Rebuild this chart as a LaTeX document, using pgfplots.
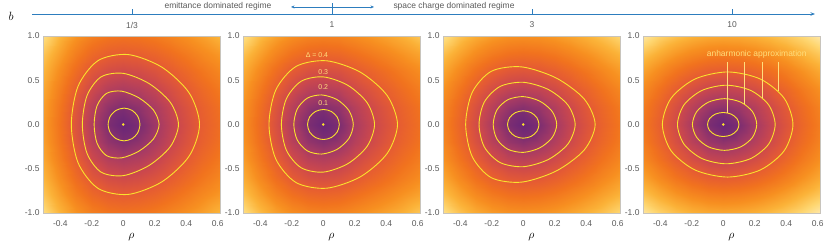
\documentclass[border=0pt]{standalone}
\usepackage{fontspec}
\setmainfont{Liberation Sans}
\usepackage{pgfplots}
\pgfplotsset{compat=1.18}
\usetikzlibrary{arrows.meta}
\definecolor{axblue}{RGB}{45,125,190}
\definecolor{lblgrey}{RGB}{90,90,90}
\definecolor{framegrey}{RGB}{200,196,188}
\definecolor{ctr}{RGB}{250,226,45}
\definecolor{annot}{RGB}{255,222,125}
\pgfplotsset{
  colormap={sunset}{rgb255=(105,38,120) rgb255=(124,45,113) rgb255=(168,59,99) rgb255=(204,72,76) rgb255=(229,91,51) rgb255=(241,114,30) rgb255=(247,143,32) rgb255=(251,178,56) rgb255=(254,214,112) rgb255=(255,238,188)},
  panel/.style={width=177bp,height=177bp,scale only axis,
    xmin=-0.51,xmax=0.615,ymin=-1,ymax=1,axis on top,
    xtick={-0.4,-0.2,0,0.2,0.4,0.6},xticklabels={-0.4,-0.2,0,0.2,0.4,0.6},
    ytick={-1,-0.5,0,0.5,1},yticklabels={-1.0,-0.5,0.0,0.5,1.0},
    major tick length=0pt,
    tick label style={font=\fontsize{8.5}{9}\selectfont,text=lblgrey},
    xticklabel style={yshift=-4bp},
    axis line style={framegrey,line width=0.8bp},
    xlabel={$\rho$},
    xlabel style={at={(axis description cs:0.5,0)},anchor=center,yshift=-24bp,font=\fontsize{12}{12}\selectfont},
    colormap name=sunset,point meta min=0,point meta max=0.9},
  bg/.style={surf,shader=interp,mesh/cols=12,point meta=\thisrow{c}},
  dot/.style={only marks,mark=*,mark size=1bp,ctr}
}
\begin{document}
\begin{tikzpicture}
\useasboundingbox (0,0) rectangle (831bp,252bp);
\node[font=\fontsize{12}{12}\selectfont] at (11bp,236bp) {$b$};
% top axis
\begin{axis}[at={(32bp,238bp)},anchor=south west,width=783bp,height=11bp,scale only axis,
  xmin=-0.5,xmax=3.415,ymin=0,ymax=1,axis x line=bottom,axis y line=none,ytick=\empty,
  x axis line style={axblue,line width=0.8bp,-{Stealth[length=4.5bp,width=3.5bp]}},
  xtick={0,1,2,3},xticklabels={1/3,1,3,10},xtick align=inside,major tick length=5bp,
  tick style={axblue,line width=0.8bp},
  xticklabel style={font=\fontsize{8.5}{9}\selectfont,text=lblgrey,yshift=-4.5bp},clip=false]
\draw[axblue,line width=0.8bp] (axis cs:1,0) -- (axis cs:1,1);
\draw[axblue,line width=0.7bp,{Stealth[length=3.5bp,width=3bp]}-{Stealth[length=3.5bp,width=3bp]}] (axis cs:0.795,0.64) -- (axis cs:1.21,0.64);
\node[text=lblgrey,font=\fontsize{8.5}{9}\selectfont] at (axis cs:0.43,0.73) {emittance dominated regime};
\node[text=lblgrey,font=\fontsize{8.5}{9}\selectfont] at (axis cs:1.61,0.73) {space charge dominated regime};
\end{axis}
% panel 1
\begin{axis}[panel,at={(43bp,39bp)},anchor=south west]
\addplot[bg] table[row sep=\\] {x y c\\
-0.51 -1 0.830\\ -0.4 -1 0.707\\ -0.3 -1 0.614\\ -0.2 -1 0.546\\ -0.1 -1 0.511\\ 0 -1 0.500\\ 0.1 -1 0.509\\ 0.2 -1 0.530\\ 0.3 -1 0.563\\ 0.4 -1 0.602\\ 0.5 -1 0.647\\ 0.615 -1 0.710\\
-0.51 -0.8 0.757\\ -0.4 -0.8 0.643\\ -0.3 -0.8 0.539\\ -0.2 -0.8 0.460\\ -0.1 -0.8 0.417\\ 0 -0.8 0.404\\ 0.1 -0.8 0.415\\ 0.2 -0.8 0.441\\ 0.3 -0.8 0.479\\ 0.4 -0.8 0.526\\ 0.5 -0.8 0.576\\ 0.615 -0.8 0.627\\
-0.51 -0.6 0.711\\ -0.4 -0.6 0.588\\ -0.3 -0.6 0.473\\ -0.2 -0.6 0.380\\ -0.1 -0.6 0.327\\ 0 -0.6 0.310\\ 0.1 -0.6 0.324\\ 0.2 -0.6 0.357\\ 0.3 -0.6 0.403\\ 0.4 -0.6 0.457\\ 0.5 -0.6 0.514\\ 0.615 -0.6 0.571\\
-0.51 -0.4 0.674\\ -0.4 -0.4 0.543\\ -0.3 -0.4 0.415\\ -0.2 -0.4 0.306\\ -0.1 -0.4 0.236\\ 0 -0.4 0.212\\ 0.1 -0.4 0.232\\ 0.2 -0.4 0.276\\ 0.3 -0.4 0.334\\ 0.4 -0.4 0.397\\ 0.5 -0.4 0.462\\ 0.615 -0.4 0.525\\
-0.51 -0.2 0.649\\ -0.4 -0.2 0.512\\ -0.3 -0.2 0.373\\ -0.2 -0.2 0.245\\ -0.1 -0.2 0.150\\ 0 -0.2 0.108\\ 0.1 -0.2 0.143\\ 0.2 -0.2 0.207\\ 0.3 -0.2 0.280\\ 0.4 -0.2 0.353\\ 0.5 -0.2 0.424\\ 0.615 -0.2 0.492\\
-0.51 0 0.640\\ -0.4 0 0.500\\ -0.3 0 0.357\\ -0.2 0 0.220\\ -0.1 0 0.104\\ 0 0 0.000\\ 0.1 0 0.094\\ 0.2 0 0.177\\ 0.3 0 0.258\\ 0.4 0 0.336\\ 0.5 0 0.410\\ 0.615 0 0.480\\
-0.51 0.2 0.649\\ -0.4 0.2 0.512\\ -0.3 0.2 0.373\\ -0.2 0.2 0.245\\ -0.1 0.2 0.150\\ 0 0.2 0.108\\ 0.1 0.2 0.143\\ 0.2 0.2 0.207\\ 0.3 0.2 0.280\\ 0.4 0.2 0.353\\ 0.5 0.2 0.424\\ 0.615 0.2 0.492\\
-0.51 0.4 0.674\\ -0.4 0.4 0.543\\ -0.3 0.4 0.415\\ -0.2 0.4 0.306\\ -0.1 0.4 0.236\\ 0 0.4 0.212\\ 0.1 0.4 0.232\\ 0.2 0.4 0.276\\ 0.3 0.4 0.334\\ 0.4 0.4 0.397\\ 0.5 0.4 0.462\\ 0.615 0.4 0.525\\
-0.51 0.6 0.711\\ -0.4 0.6 0.588\\ -0.3 0.6 0.473\\ -0.2 0.6 0.380\\ -0.1 0.6 0.327\\ 0 0.6 0.310\\ 0.1 0.6 0.324\\ 0.2 0.6 0.357\\ 0.3 0.6 0.403\\ 0.4 0.6 0.457\\ 0.5 0.6 0.514\\ 0.615 0.6 0.571\\
-0.51 0.8 0.757\\ -0.4 0.8 0.643\\ -0.3 0.8 0.539\\ -0.2 0.8 0.460\\ -0.1 0.8 0.417\\ 0 0.8 0.404\\ 0.1 0.8 0.415\\ 0.2 0.8 0.441\\ 0.3 0.8 0.479\\ 0.4 0.8 0.526\\ 0.5 0.8 0.576\\ 0.615 0.8 0.627\\
-0.51 1 0.830\\ -0.4 1 0.707\\ -0.3 1 0.614\\ -0.2 1 0.546\\ -0.1 1 0.511\\ 0 1 0.500\\ 0.1 1 0.509\\ 0.2 1 0.530\\ 0.3 1 0.563\\ 0.4 1 0.602\\ 0.5 1 0.647\\ 0.615 1 0.710\\
};
\addplot[ctr,line width=0.9bp,smooth cycle] coordinates {(0.485,0) (0.419,0.357) (0.247,0.646) (0.032,0.79) (-0.160,0.722) (-0.287,0.433) (-0.330,0) (-0.287,-0.433) (-0.160,-0.722) (0.032,-0.79) (0.247,-0.646) (0.419,-0.357)};
\addplot[ctr,line width=0.9bp,smooth cycle] coordinates {(0.351,0) (0.299,0.251) (0.164,0.463) (0,0.578) (-0.141,0.538) (-0.230,0.327) (-0.260,0) (-0.230,-0.327) (-0.141,-0.538) (0,-0.578) (0.164,-0.463) (0.299,-0.251)};
\addplot[ctr,line width=0.9bp,smooth cycle] coordinates {(0.228,0) (0.192,0.163) (0.100,0.301) (-0.011,0.377) (-0.106,0.352) (-0.166,0.214) (-0.185,0) (-0.166,-0.214) (-0.106,-0.352) (-0.011,-0.377) (0.100,-0.301) (0.192,-0.163)};
\addplot[ctr,line width=0.9bp,smooth cycle] coordinates {(0.106,0) (0.0925,0.0925) (0.0555,0.160) (0.005,0.185) (-0.0455,0.160) (-0.0825,0.0925) (-0.096,0) (-0.0825,-0.0925) (-0.0455,-0.160) (0.005,-0.185) (0.0555,-0.160) (0.0925,-0.0925)};
\addplot[dot] coordinates {(0,0)};
\node[font=\fontsize{12}{12}\selectfont] at (axis description cs:0,0.5) [xshift=-29bp,yshift=6bp] {$p_\rho$};
\end{axis}
% panel 2
\begin{axis}[panel,at={(243bp,39bp)},anchor=south west]
\addplot[bg] table[row sep=\\] {x y c\\
-0.51 -1 0.835\\ -0.4 -1 0.727\\ -0.3 -1 0.652\\ -0.2 -1 0.595\\ -0.1 -1 0.563\\ 0 -1 0.554\\ 0.1 -1 0.563\\ 0.2 -1 0.591\\ 0.3 -1 0.621\\ 0.4 -1 0.656\\ 0.5 -1 0.695\\ 0.615 -1 0.755\\
-0.51 -0.8 0.746\\ -0.4 -0.8 0.647\\ -0.3 -0.8 0.561\\ -0.2 -0.8 0.494\\ -0.1 -0.8 0.455\\ 0 -0.8 0.444\\ 0.1 -0.8 0.455\\ 0.2 -0.8 0.490\\ 0.3 -0.8 0.526\\ 0.4 -0.8 0.566\\ 0.5 -0.8 0.611\\ 0.615 -0.8 0.660\\
-0.51 -0.6 0.687\\ -0.4 -0.6 0.577\\ -0.3 -0.6 0.479\\ -0.2 -0.6 0.398\\ -0.1 -0.6 0.349\\ 0 -0.6 0.334\\ 0.1 -0.6 0.348\\ 0.2 -0.6 0.393\\ 0.3 -0.6 0.437\\ 0.4 -0.6 0.485\\ 0.5 -0.6 0.536\\ 0.615 -0.6 0.591\\
-0.51 -0.4 0.643\\ -0.4 -0.4 0.524\\ -0.3 -0.4 0.414\\ -0.2 -0.4 0.317\\ -0.1 -0.4 0.253\\ 0 -0.4 0.232\\ 0.1 -0.4 0.252\\ 0.2 -0.4 0.311\\ 0.3 -0.4 0.364\\ 0.4 -0.4 0.421\\ 0.5 -0.4 0.479\\ 0.615 -0.4 0.540\\
-0.51 -0.2 0.612\\ -0.4 -0.2 0.485\\ -0.3 -0.2 0.363\\ -0.2 -0.2 0.246\\ -0.1 -0.2 0.155\\ 0 -0.2 0.118\\ 0.1 -0.2 0.153\\ 0.2 -0.2 0.238\\ 0.3 -0.2 0.305\\ 0.4 -0.2 0.370\\ 0.5 -0.2 0.435\\ 0.615 -0.2 0.502\\
-0.51 0 0.600\\ -0.4 0 0.470\\ -0.3 0 0.343\\ -0.2 0 0.216\\ -0.1 0 0.100\\ 0 0 0.000\\ 0.1 0 0.098\\ 0.2 0 0.207\\ 0.3 0 0.281\\ 0.4 0 0.351\\ 0.5 0 0.419\\ 0.615 0 0.488\\
-0.51 0.2 0.612\\ -0.4 0.2 0.485\\ -0.3 0.2 0.363\\ -0.2 0.2 0.246\\ -0.1 0.2 0.155\\ 0 0.2 0.118\\ 0.1 0.2 0.153\\ 0.2 0.2 0.238\\ 0.3 0.2 0.305\\ 0.4 0.2 0.370\\ 0.5 0.2 0.435\\ 0.615 0.2 0.502\\
-0.51 0.4 0.643\\ -0.4 0.4 0.524\\ -0.3 0.4 0.414\\ -0.2 0.4 0.317\\ -0.1 0.4 0.253\\ 0 0.4 0.232\\ 0.1 0.4 0.252\\ 0.2 0.4 0.311\\ 0.3 0.4 0.364\\ 0.4 0.4 0.421\\ 0.5 0.4 0.479\\ 0.615 0.4 0.540\\
-0.51 0.6 0.687\\ -0.4 0.6 0.577\\ -0.3 0.6 0.479\\ -0.2 0.6 0.398\\ -0.1 0.6 0.349\\ 0 0.6 0.334\\ 0.1 0.6 0.348\\ 0.2 0.6 0.393\\ 0.3 0.6 0.437\\ 0.4 0.6 0.485\\ 0.5 0.6 0.536\\ 0.615 0.6 0.591\\
-0.51 0.8 0.746\\ -0.4 0.8 0.647\\ -0.3 0.8 0.561\\ -0.2 0.8 0.494\\ -0.1 0.8 0.455\\ 0 0.8 0.444\\ 0.1 0.8 0.455\\ 0.2 0.8 0.490\\ 0.3 0.8 0.526\\ 0.4 0.8 0.566\\ 0.5 0.8 0.611\\ 0.615 0.8 0.660\\
-0.51 1 0.835\\ -0.4 1 0.727\\ -0.3 1 0.652\\ -0.2 1 0.595\\ -0.1 1 0.563\\ 0 1 0.554\\ 0.1 1 0.563\\ 0.2 1 0.591\\ 0.3 1 0.621\\ 0.4 1 0.656\\ 0.5 1 0.695\\ 0.615 1 0.755\\
};
\addplot[ctr,line width=0.9bp,smooth cycle] coordinates {(0.472,0) (0.406,0.328) (0.236,0.591) (0.021,0.72) (-0.173,0.656) (-0.301,0.392) (-0.345,0) (-0.301,-0.392) (-0.173,-0.656) (0.021,-0.72) (0.236,-0.591) (0.406,-0.328)};
\addplot[ctr,line width=0.9bp,smooth cycle] coordinates {(0.326,0) (0.279,0.246) (0.156,0.443) (0,0.538) (-0.140,0.489) (-0.234,0.292) (-0.266,0) (-0.234,-0.292) (-0.140,-0.489) (0,-0.538) (0.156,-0.443) (0.279,-0.246)};
\addplot[ctr,line width=0.9bp,smooth cycle] coordinates {(0.191,0) (0.163,0.158) (0.088,0.281) (-0.010,0.334) (-0.101,0.298) (-0.165,0.176) (-0.187,0) (-0.165,-0.176) (-0.101,-0.298) (-0.010,-0.334) (0.088,-0.281) (0.163,-0.158)};
\addplot[ctr,line width=0.9bp,smooth cycle] coordinates {(0.102,0) (0.0885,0.085) (0.0515,0.147) (0.001,0.17) (-0.0495,0.147) (-0.0865,0.085) (-0.100,0) (-0.0865,-0.085) (-0.0495,-0.147) (0.001,-0.17) (0.0515,-0.147) (0.0885,-0.085)};
\addplot[dot] coordinates {(0,0)};
\node[text=annot,font=\fontsize{7}{8}\selectfont] at (axis cs:-0.04,0.785) {Δ = 0.4};
\node[text=annot,font=\fontsize{7}{8}\selectfont] at (axis cs:0,0.596) {0.3};
\node[text=annot,font=\fontsize{7}{8}\selectfont] at (axis cs:0,0.426) {0.2};
\node[text=annot,font=\fontsize{7}{8}\selectfont] at (axis cs:0,0.245) {0.1};
\end{axis}
% panel 3
\begin{axis}[panel,at={(443bp,39bp)},anchor=south west]
\addplot[bg] table[row sep=\\] {x y c\\
-0.51 -1 0.840\\ -0.4 -1 0.745\\ -0.3 -1 0.682\\ -0.2 -1 0.636\\ -0.1 -1 0.609\\ 0 -1 0.601\\ 0.1 -1 0.609\\ 0.2 -1 0.630\\ 0.3 -1 0.660\\ 0.4 -1 0.698\\ 0.5 -1 0.741\\ 0.615 -1 0.805\\
-0.51 -0.8 0.739\\ -0.4 -0.8 0.655\\ -0.3 -0.8 0.583\\ -0.2 -0.8 0.529\\ -0.1 -0.8 0.496\\ 0 -0.8 0.486\\ 0.1 -0.8 0.496\\ 0.2 -0.8 0.521\\ 0.3 -0.8 0.558\\ 0.4 -0.8 0.602\\ 0.5 -0.8 0.651\\ 0.615 -0.8 0.706\\
-0.51 -0.6 0.670\\ -0.4 -0.6 0.575\\ -0.3 -0.6 0.491\\ -0.2 -0.6 0.426\\ -0.1 -0.6 0.384\\ 0 -0.6 0.371\\ 0.1 -0.6 0.384\\ 0.2 -0.6 0.416\\ 0.3 -0.6 0.461\\ 0.4 -0.6 0.513\\ 0.5 -0.6 0.571\\ 0.615 -0.6 0.633\\
-0.51 -0.4 0.612\\ -0.4 -0.4 0.507\\ -0.3 -0.4 0.410\\ -0.2 -0.4 0.328\\ -0.1 -0.4 0.272\\ 0 -0.4 0.253\\ 0.1 -0.4 0.272\\ 0.2 -0.4 0.315\\ 0.3 -0.4 0.373\\ 0.4 -0.4 0.436\\ 0.5 -0.4 0.502\\ 0.615 -0.4 0.572\\
-0.51 -0.2 0.572\\ -0.4 -0.2 0.458\\ -0.3 -0.2 0.347\\ -0.2 -0.2 0.246\\ -0.1 -0.2 0.162\\ 0 -0.2 0.128\\ 0.1 -0.2 0.162\\ 0.2 -0.2 0.228\\ 0.3 -0.2 0.303\\ 0.4 -0.2 0.378\\ 0.5 -0.2 0.452\\ 0.615 -0.2 0.528\\
-0.51 0 0.558\\ -0.4 0 0.440\\ -0.3 0 0.322\\ -0.2 0 0.210\\ -0.1 0 0.100\\ 0 0 0.000\\ 0.1 0 0.100\\ 0.2 0 0.189\\ 0.3 0 0.274\\ 0.4 0 0.355\\ 0.5 0 0.434\\ 0.615 0 0.513\\
-0.51 0.2 0.572\\ -0.4 0.2 0.458\\ -0.3 0.2 0.347\\ -0.2 0.2 0.246\\ -0.1 0.2 0.162\\ 0 0.2 0.128\\ 0.1 0.2 0.162\\ 0.2 0.2 0.228\\ 0.3 0.2 0.303\\ 0.4 0.2 0.378\\ 0.5 0.2 0.452\\ 0.615 0.2 0.528\\
-0.51 0.4 0.612\\ -0.4 0.4 0.507\\ -0.3 0.4 0.410\\ -0.2 0.4 0.328\\ -0.1 0.4 0.272\\ 0 0.4 0.253\\ 0.1 0.4 0.272\\ 0.2 0.4 0.315\\ 0.3 0.4 0.373\\ 0.4 0.4 0.436\\ 0.5 0.4 0.502\\ 0.615 0.4 0.572\\
-0.51 0.6 0.670\\ -0.4 0.6 0.575\\ -0.3 0.6 0.491\\ -0.2 0.6 0.426\\ -0.1 0.6 0.384\\ 0 0.6 0.371\\ 0.1 0.6 0.384\\ 0.2 0.6 0.416\\ 0.3 0.6 0.461\\ 0.4 0.6 0.513\\ 0.5 0.6 0.571\\ 0.615 0.6 0.633\\
-0.51 0.8 0.739\\ -0.4 0.8 0.655\\ -0.3 0.8 0.583\\ -0.2 0.8 0.529\\ -0.1 0.8 0.496\\ 0 0.8 0.486\\ 0.1 0.8 0.496\\ 0.2 0.8 0.521\\ 0.3 0.8 0.558\\ 0.4 0.8 0.602\\ 0.5 0.8 0.651\\ 0.615 0.8 0.706\\
-0.51 1 0.840\\ -0.4 1 0.745\\ -0.3 1 0.682\\ -0.2 1 0.636\\ -0.1 1 0.609\\ 0 1 0.601\\ 0.1 1 0.609\\ 0.2 1 0.630\\ 0.3 1 0.660\\ 0.4 1 0.698\\ 0.5 1 0.741\\ 0.615 1 0.805\\
};
\addplot[ctr,line width=0.9bp,smooth cycle] coordinates {(0.457,0) (0.388,0.287) (0.210,0.525) (-0.010,0.651) (-0.202,0.602) (-0.324,0.364) (-0.366,0) (-0.324,-0.364) (-0.202,-0.602) (-0.010,-0.651) (0.210,-0.525) (0.388,-0.287)};
\addplot[ctr,line width=0.9bp,smooth cycle] coordinates {(0.330,0) (0.283,0.222) (0.159,0.396) (0,0.477) (-0.147,0.430) (-0.247,0.255) (-0.281,0) (-0.247,-0.255) (-0.147,-0.430) (0,-0.477) (0.159,-0.396) (0.283,-0.222)};
\addplot[ctr,line width=0.9bp,smooth cycle] coordinates {(0.213,0) (0.183,0.150) (0.104,0.265) (0,0.315) (-0.098,0.280) (-0.167,0.165) (-0.191,0) (-0.167,-0.165) (-0.098,-0.280) (0,-0.315) (0.104,-0.265) (0.183,-0.150)};
\addplot[ctr,line width=0.9bp,smooth cycle] coordinates {(0.1,0) (0.0866,0.0775) (0.05,0.134) (0,0.155) (-0.05,0.134) (-0.0866,0.0775) (-0.1,0) (-0.0866,-0.0775) (-0.05,-0.134) (0,-0.155) (0.05,-0.134) (0.0866,-0.0775)};
\addplot[dot] coordinates {(0,0)};
\end{axis}
% panel 4
\begin{axis}[panel,at={(643bp,39bp)},anchor=south west]
\addplot[bg] table[row sep=\\] {x y c\\
-0.51 -1 0.865\\ -0.4 -1 0.788\\ -0.3 -1 0.739\\ -0.2 -1 0.701\\ -0.1 -1 0.678\\ 0 -1 0.671\\ 0.1 -1 0.678\\ 0.2 -1 0.697\\ 0.3 -1 0.725\\ 0.4 -1 0.762\\ 0.5 -1 0.808\\ 0.615 -1 0.875\\
-0.51 -0.8 0.746\\ -0.4 -0.8 0.678\\ -0.3 -0.8 0.620\\ -0.2 -0.8 0.575\\ -0.1 -0.8 0.546\\ 0 -0.8 0.537\\ 0.1 -0.8 0.546\\ 0.2 -0.8 0.569\\ 0.3 -0.8 0.603\\ 0.4 -0.8 0.648\\ 0.5 -0.8 0.701\\ 0.615 -0.8 0.761\\
-0.51 -0.6 0.657\\ -0.4 -0.6 0.578\\ -0.3 -0.6 0.509\\ -0.2 -0.6 0.453\\ -0.1 -0.6 0.416\\ 0 -0.6 0.404\\ 0.1 -0.6 0.416\\ 0.2 -0.6 0.446\\ 0.3 -0.6 0.488\\ 0.4 -0.6 0.542\\ 0.5 -0.6 0.605\\ 0.615 -0.6 0.674\\
-0.51 -0.4 0.584\\ -0.4 -0.4 0.494\\ -0.3 -0.4 0.411\\ -0.2 -0.4 0.339\\ -0.1 -0.4 0.289\\ 0 -0.4 0.271\\ 0.1 -0.4 0.289\\ 0.2 -0.4 0.330\\ 0.3 -0.4 0.386\\ 0.4 -0.4 0.452\\ 0.5 -0.4 0.526\\ 0.615 -0.4 0.603\\
-0.51 -0.2 0.536\\ -0.4 -0.2 0.437\\ -0.3 -0.2 0.340\\ -0.2 -0.2 0.248\\ -0.1 -0.2 0.173\\ 0 -0.2 0.141\\ 0.1 -0.2 0.173\\ 0.2 -0.2 0.235\\ 0.3 -0.2 0.309\\ 0.4 -0.2 0.388\\ 0.5 -0.2 0.472\\ 0.615 -0.2 0.557\\
-0.51 0 0.518\\ -0.4 0 0.414\\ -0.3 0 0.309\\ -0.2 0 0.204\\ -0.1 0 0.100\\ 0 0 0.000\\ 0.1 0 0.100\\ 0.2 0 0.189\\ 0.3 0 0.274\\ 0.4 0 0.362\\ 0.5 0 0.450\\ 0.615 0 0.539\\
-0.51 0.2 0.536\\ -0.4 0.2 0.437\\ -0.3 0.2 0.340\\ -0.2 0.2 0.248\\ -0.1 0.2 0.173\\ 0 0.2 0.141\\ 0.1 0.2 0.173\\ 0.2 0.2 0.235\\ 0.3 0.2 0.309\\ 0.4 0.2 0.388\\ 0.5 0.2 0.472\\ 0.615 0.2 0.557\\
-0.51 0.4 0.584\\ -0.4 0.4 0.494\\ -0.3 0.4 0.411\\ -0.2 0.4 0.339\\ -0.1 0.4 0.289\\ 0 0.4 0.271\\ 0.1 0.4 0.289\\ 0.2 0.4 0.330\\ 0.3 0.4 0.386\\ 0.4 0.4 0.452\\ 0.5 0.4 0.526\\ 0.615 0.4 0.603\\
-0.51 0.6 0.657\\ -0.4 0.6 0.578\\ -0.3 0.6 0.509\\ -0.2 0.6 0.453\\ -0.1 0.6 0.416\\ 0 0.6 0.404\\ 0.1 0.6 0.416\\ 0.2 0.6 0.446\\ 0.3 0.6 0.488\\ 0.4 0.6 0.542\\ 0.5 0.6 0.605\\ 0.615 0.6 0.674\\
-0.51 0.8 0.746\\ -0.4 0.8 0.678\\ -0.3 0.8 0.620\\ -0.2 0.8 0.575\\ -0.1 0.8 0.546\\ 0 0.8 0.537\\ 0.1 0.8 0.546\\ 0.2 0.8 0.569\\ 0.3 0.8 0.603\\ 0.4 0.8 0.648\\ 0.5 0.8 0.701\\ 0.615 0.8 0.761\\
-0.51 1 0.865\\ -0.4 1 0.788\\ -0.3 1 0.739\\ -0.2 1 0.701\\ -0.1 1 0.678\\ 0 1 0.671\\ 0.1 1 0.678\\ 0.2 1 0.697\\ 0.3 1 0.725\\ 0.4 1 0.762\\ 0.5 1 0.808\\ 0.615 1 0.875\\
};
\addplot[ctr,line width=0.9bp,smooth cycle] coordinates {(0.443,0) (0.387,0.297) (0.2355,0.514) (0.028,0.594) (-0.1795,0.514) (-0.3314,0.297) (-0.387,0) (-0.3314,-0.297) (-0.1795,-0.514) (0.028,-0.594) (0.2355,-0.514) (0.387,-0.297)};
\addplot[ctr,line width=0.9bp,smooth cycle] coordinates {(0.33,0) (0.2884,0.222) (0.1748,0.3845) (0.0195,0.444) (-0.1358,0.3845) (-0.2494,0.222) (-0.291,0) (-0.2494,-0.222) (-0.1358,-0.3845) (0.0195,-0.444) (0.1748,-0.3845) (0.2884,-0.222)};
\addplot[ctr,line width=0.9bp,smooth cycle] coordinates {(0.213,0) (0.1856,0.146) (0.1108,0.253) (0.0085,0.292) (-0.0938,0.253) (-0.1686,0.146) (-0.196,0) (-0.1686,-0.146) (-0.0938,-0.253) (0.0085,-0.292) (0.1108,-0.253) (0.1856,-0.146)};
\addplot[ctr,line width=0.9bp,smooth cycle] coordinates {(0.1,0) (0.0866,0.068) (0.05,0.1178) (0,0.136) (-0.05,0.1178) (-0.0866,0.068) (-0.1,0) (-0.0866,-0.068) (-0.05,-0.1178) (0,-0.136) (0.05,-0.1178) (0.0866,-0.068)};
\addplot[dot] coordinates {(0,0)};
\addplot[annot,line width=0.5bp] coordinates {(0.028,0.709) (0.028,0.135)};
\addplot[annot,line width=0.5bp] coordinates {(0.134,0.709) (0.134,0.230)};
\addplot[annot,line width=0.5bp] coordinates {(0.245,0.709) (0.245,0.305)};
\addplot[annot,line width=0.5bp] coordinates {(0.351,0.709) (0.351,0.373)};
\node[text=annot,font=\fontsize{8.5}{9}\selectfont] at (axis cs:0.213,0.796) {anharmonic approximation};
\end{axis}
\end{tikzpicture}
\end{document}
